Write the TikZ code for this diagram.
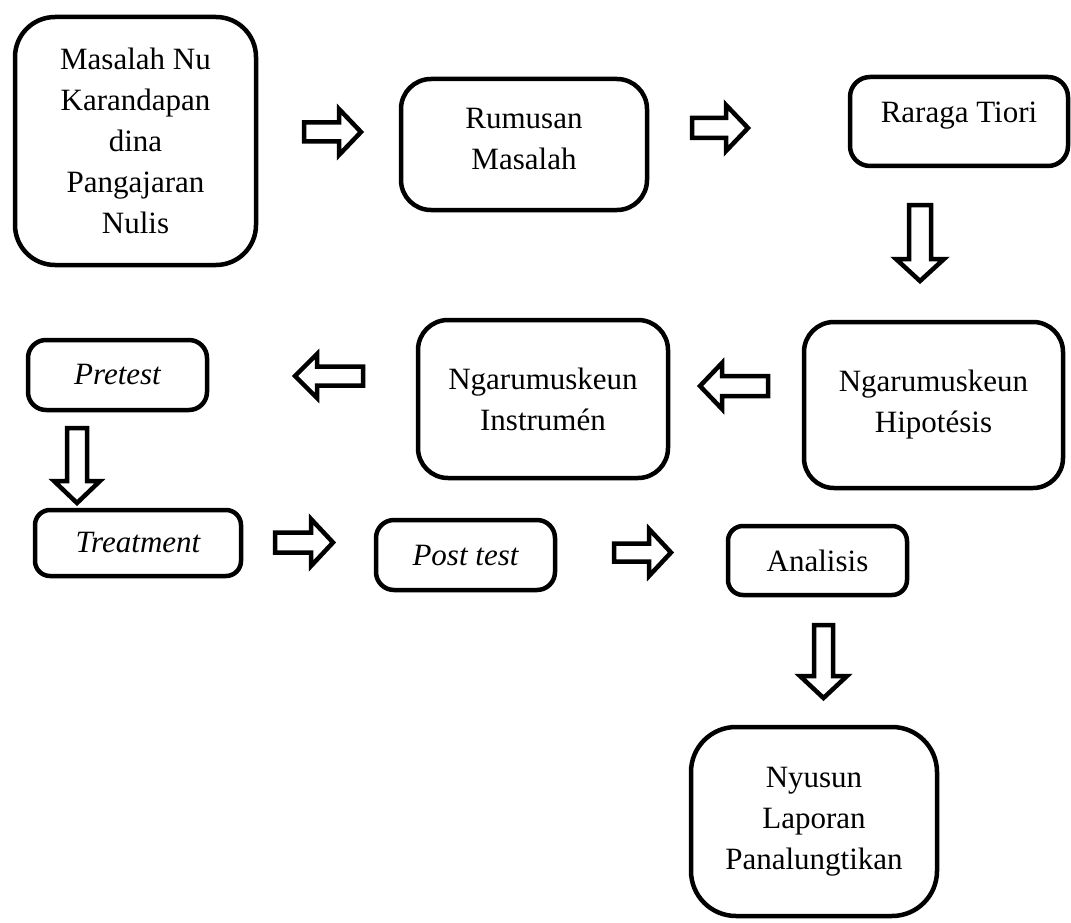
\documentclass[tikz,border=0pt]{standalone}
\usepackage{fontspec}
\setmainfont{Liberation Serif}
\tikzset{box/.style={draw,line width=4.5pt,rounded corners=#1,align=center,inner sep=0pt,font=\fontsize{31}{41}\selectfont},
	box/.default=18pt,
	pics/panah/.style n args={3}{code={%length, half head, half shaft
		\draw[line width=4.5pt] (-#1/2,-#3) -- (#1/2-22,-#3) -- (#1/2-22,-#2) -- (#1/2,0) -- (#1/2-22,#2) -- (#1/2-22,#3) -- (-#1/2,#3) -- cycle;}}}

\begin{document}
\begin{tikzpicture}[x=1pt,y=-1pt]
	\useasboundingbox (0,0) rectangle (1071,923);
	%baris kahiji
	\node[box=40pt,minimum width=241pt,minimum height=248pt] (masalah) at (135.5,141) {Masalah Nu\\Karandapan\\dina\\Pangajaran\\Nulis};
	\node[box=30pt,minimum width=246pt,minimum height=131pt,text depth=12pt] (rumusan) at (524,144.5) {Rumusan\\Masalah};
	\node[box=20pt,minimum width=218pt,minimum height=89pt,text depth=19pt] (tiori) at (959,121.5) {Raraga Tiori};
	%baris kadua
	\node[box=30pt,minimum width=259pt,minimum height=166pt] (hipotesis) at (933.5,405) {Ngarumuskeun\\Hipotésis};
	\node[box=30pt,minimum width=250pt,minimum height=158pt] (instrumen) at (543,399) {Ngarumuskeun\\Instrumén};
	\node[box,minimum width=179pt,minimum height=70pt] (pretest) at (117.5,375) {\itshape Pretest};
	%baris katilu
	\node[box=15pt,minimum width=206pt,minimum height=66pt] (treatment) at (138,543) {\itshape Treatment};
	\node[box,minimum width=179pt,minimum height=70pt] (posttest) at (465.5,555) {\itshape Post test};
	\node[box=15pt,minimum width=179pt,minimum height=69pt] (analisis) at (817.5,560.5) {Analisis};
	\node[box=45pt,minimum width=246pt,minimum height=189pt] (laporan) at (814,821.5) {Nyusun\\Laporan\\Panalungtikan};
	%panah
	\pic (p1) at (332.5,132) {panah={57}{23}{9.5}};
	\pic (p2) at (720,128) {panah={56}{23}{10}};
	\pic[rotate=-90] (p3) at (920,243) {panah={76}{24}{11}};
	\pic[rotate=180] (p4) at (734,386) {panah={68}{23}{10}};
	\pic[rotate=180] (p5) at (329,376) {panah={68}{22}{9.5}};
	\pic[rotate=-90] (p6) at (77,465.5) {panah={75}{23}{10}};
	\pic (p7) at (304,542.5) {panah={58}{23.5}{10}};
	\pic (p8) at (642.5,552.5) {panah={57}{23.5}{9}};
	\pic[rotate=-90] (p9) at (823.5,661.5) {panah={73}{23.5}{9.5}};
\end{tikzpicture}
\end{document}
